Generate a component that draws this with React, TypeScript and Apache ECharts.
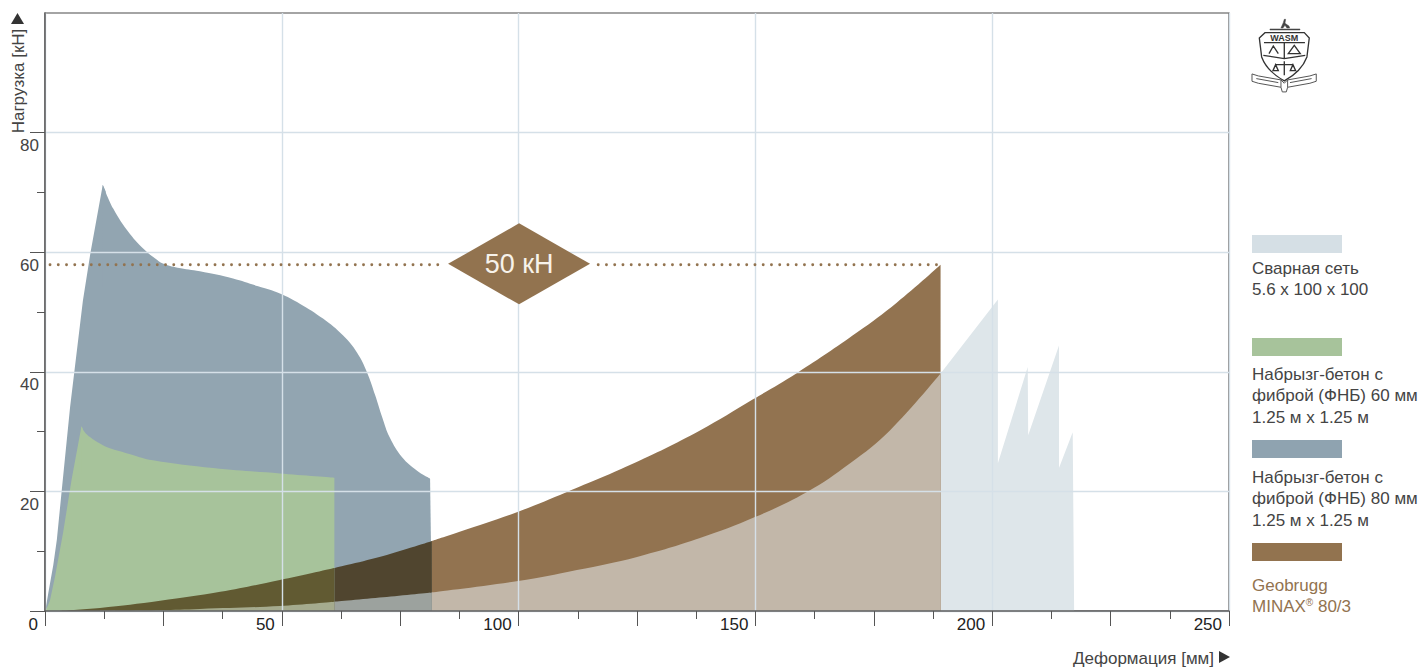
import React, { useEffect, useRef } from "react";
import * as echarts from "echarts";

type Pt = [number, number];

const xLabelValues = [0, 50, 100, 150, 200, 250];
const xMidTicks = [25, 75, 125, 175, 225];
const xMinorTicks = [12.5, 37.5, 62.5, 87.5, 112.5, 137.5, 162.5, 187.5, 212.5, 237.5];
const yLabelValues = [20, 40, 60, 80];
const yMajorTicks = [0, 20, 40, 60, 80];
const yMinorTicks = [10, 30, 50, 70];

const fibre80Rise: Pt[] = [
  [0, 0], [0.35, 1.4], [0.7, 3], [1.75, 7.7], [2.5, 11.9], [3.5, 19.9], [5.3, 34.1], [8, 51.9], [9.6, 59.9], [12.2, 71.3], [12.8, 70.2],
];
const fibre80Fall: Pt[] = [
  [12.2, 71.3], [14.4, 67.3], [17.9, 63.1], [21.3, 60.2], [23.2, 59], [24.9, 58.1], [28, 57.4], [32.7, 56.8], [39.7, 55.6], [45, 54.3], [49.6, 53.1],
  [53.8, 51.4], [58.7, 48.9], [62.9, 46.1], [65.9, 43.2], [68, 39.9], [69.7, 36.1], [71.2, 32.4],
  [72.8, 29], [75.4, 25.7], [78.5, 23.5], [81.3, 22.1],
];
const fibre80Tail: Pt[] = [[80.5, 22.5], [81.3, 22.1], [81.7, 0]];
const fibre60Rise: Pt[] = [
  [0, 0], [0.5, 0.7], [1.06, 1.8], [2.1, 5.7], [3.8, 13], [5.6, 21.9], [7.7, 30.9], [8, 30.4],
];
const fibre60Fall: Pt[] = [
  [7.7, 30.9], [8.4, 29.9], [9.5, 29.1], [11.6, 28],
  [13.7, 27.2], [17.2, 26.4], [22.8, 25.2], [35.5, 23.9], [49.6, 23], [61.1, 22.3],
];
const minaxUpper: Pt[] = [
  [3.2, 0.05], [11.6, 0.5], [24.3, 1.7], [37, 3.2], [49.6, 5.2], [61.1, 7.2], [71.4, 9.2], [81.7, 11.7], [87.4, 13.2],
  [99.9, 16.6], [110.2, 19.9], [123.5, 24.4], [138.3, 30.2], [149.5, 35.4], [158.8, 39.8], [171.5, 46.6],
  [179.9, 51.6], [189.1, 57.9],
];
const minaxLower: Pt[] = [
  [11.6, 0.05], [24.3, 0.15], [32.7, 0.35], [49.6, 0.85], [61.1, 1.55], [71.4, 2.3], [81.7, 3.1], [99.9, 5], [112.3, 6.85],
  [125, 9.05], [138.3, 12.2], [149.9, 15.7], [160.9, 19.9], [170, 24.7], [178.4, 30.2], [189.1, 39.7],
];
const meshPeaks: Pt[] = [
  [201.2, 52.1], [201.2, 24.7], [207.5, 40.8], [207.6, 29.4], [214.1, 44.4], [214.1, 23.9],
  [217, 29.9], [217.3, 0],
];
const weldedMesh: Pt[] = [...minaxLower, ...meshPeaks];
const referenceLoad: (Pt | [null, null])[] = [[1.05, 57.9], [83.4, 57.9], [null, null], [116.8, 57.9], [188.6, 57.9]];
const diamond: Pt[] = [[100.1, 58.05]];

const legendItems = [
  { color: "#d5dfe5", text: "Сварная сеть\n5.6 x 100 x 100", textColor: "#444444", rectY: 235, textY: 258 },
  { color: "#a7c39b", text: "Набрызг-бетон с\nфиброй (ФНБ) 60 мм\n1.25 м x 1.25 м", textColor: "#444444", rectY: 338, textY: 364 },
  { color: "#8fa3b0", text: "Набрызг-бетон с\nфиброй (ФНБ) 80 мм\n1.25 м x 1.25 м", textColor: "#444444", rectY: 440, textY: 467 },
  { color: "#92734f", text: "Geobrugg\nMINAX{s|®} 80/3", textColor: "#92734f", rectY: 543, textY: 575 },
];

const FONT = '"Liberation Sans", Arial, sans-serif';
const slice = (pts: Pt[], from: number, to: number) => pts.filter((p) => p[0] >= from && p[0] <= to);

const area = (name: string, data: Pt[], color: string, smooth: number | boolean = false) => ({
  name,
  type: "line",
  data,
  symbol: "none",
  smooth,
  z: 2,
  lineStyle: { width: 0 },
  areaStyle: { color, opacity: 1 },
  silent: true,
});

echarts.graphic.registerShape(
  "wasmShield",
  echarts.graphic.extendPath(
    "M60 62L178 62L193 78L186 135Q170 178 118 207Q66 178 50 135L43 78Z M57 92L180 92 M118 92L118 140 M55 130L118 140L181 130 M118 148L118 190 M92 158L144 158 M92 158L84 176L100 176Z M144 158L136 176L152 176Z M148 100L166 125L130 125Z M72 125L85 102L100 125",
    {}
  ) as any
);
echarts.graphic.registerShape(
  "wasmBanner",
  echarts.graphic.extendPath(
    "M21 186L40 192L108 204L108 226L40 214L21 208Z M214 186L195 192L128 204L128 226L195 214L214 208Z M108 204L118 214L128 204 M108 226L112 240L124 240L128 226 M34 200L100 212 M135 212L200 200",
    {}
  ) as any
);
echarts.graphic.registerShape(
  "wasmCrest",
  echarts.graphic.extendPath(
    "M108 48L115 32L118 22L122 22L120 34L132 42L134 48L126 48L120 40L114 48Z M75 51L165 51L165 54L75 54Z",
    {}
  ) as any
);

export default function App() {
  const ref = useRef<HTMLDivElement>(null);
  useEffect(() => {
    document.body.style.margin = "0";
    const chart = echarts.init(ref.current!, undefined, { renderer: "svg" });
    const grid = { left: 45, right: 191, top: 13, bottom: 57, show: true, borderColor: "#4a4a4a", borderWidth: 1.2, backgroundColor: "transparent" };
    const gridLine = { show: true, lineStyle: { color: "#d5e0e8", width: 1.4 } };
    const axisLine = { show: true, onZero: false, lineStyle: { color: "#5e5e5e", width: 1.5 } };
    const tickStyle = { color: "#555555", width: 1 };
    const xBase = { type: "value", min: 0, max: 250, interval: 50, z: 3, position: "bottom" };
    const yBase = { type: "value", min: 0, max: 100, interval: 20, z: 3, position: "left" };
    const hidden = { axisLine: { show: false }, splitLine: { show: false }, axisLabel: { show: false } };
    const option: any = {
      animation: false,
      grid,
      xAxis: [
        {
          ...xBase,
          axisLine,
          splitLine: gridLine,
          axisTick: { show: true, length: 15, customValues: xLabelValues, lineStyle: tickStyle },
          axisLabel: { show: true, customValues: xLabelValues, color: "#222222", fontFamily: FONT, fontSize: 17, align: "right", verticalAlign: "top", margin: 5, padding: [0, 7, 0, 0] },
        },
        { ...xBase, ...hidden, axisTick: { show: true, length: 15, customValues: xMidTicks, lineStyle: tickStyle } },
        { ...xBase, ...hidden, axisTick: { show: true, length: 8, customValues: xMinorTicks, lineStyle: tickStyle } },
      ],
      yAxis: [
        {
          ...yBase,
          axisLine,
          splitLine: gridLine,
          axisTick: { show: true, length: 15, customValues: yMajorTicks, lineStyle: tickStyle },
          axisLabel: { show: true, customValues: yLabelValues, color: "#444444", fontFamily: FONT, fontSize: 17, align: "right", verticalAlign: "top", margin: 6, padding: [4.5, 0, 0, 0] },
        },
        { ...yBase, ...hidden, axisTick: { show: true, length: 8, customValues: yMinorTicks, lineStyle: tickStyle } },
      ],
      series: [
        area("Сварная сеть 5.6 x 100 x 100", weldedMesh, "#dee6ea"),
        area("Набрызг-бетон с фиброй (ФНБ) 80 мм", fibre80Rise, "#92a5b1"),
        area("Набрызг-бетон 80 мм, спад", fibre80Fall, "#92a5b1", 0.4),
        area("Набрызг-бетон 80 мм, край", fibre80Tail, "#92a5b1"),
        area("Набрызг-бетон с фиброй (ФНБ) 60 мм", fibre60Rise, "#a7c39b"),
        area("Набрызг-бетон 60 мм, спад", fibre60Fall, "#a7c39b", 0.4),
        area("Geobrugg MINAX 80/3", slice(minaxUpper, 81.7, 190), "#927350", 0.4),
        area("MINAX / 80 мм", slice(minaxUpper, 61.1, 81.7), "#50452f", 0.4),
        area("MINAX / 60 мм", slice(minaxUpper, 0, 61.1), "#615a32", 0.4),
        area("Нижняя граница", slice(minaxLower, 81.7, 190), "#c2b7a9", 0.4),
        area("Нижняя граница / 80 мм", slice(minaxLower, 61.1, 81.7), "#9ca29e", 0.4),
        area("Нижняя граница / 60 мм", slice(minaxLower, 0, 61.1), "#a5ab8e", 0.4),
        {
          name: "Уровень 50 кН", type: "line", data: referenceLoad, symbol: "none", z: 5, connectNulls: false, silent: true,
          lineStyle: { color: "#92734f", width: 2.8, type: [0.1, 8.15], cap: "round" },
        },
        {
          name: "50 кН", type: "scatter", data: diamond, symbol: "diamond", symbolSize: [142, 81], z: 6, silent: true,
          itemStyle: { color: "#92734f", opacity: 1 },
          label: { show: true, position: "inside", formatter: "50 кН", color: "#f7f2ea", fontFamily: FONT, fontSize: 27 },
        },
      ],
      graphic: [
        { type: "text", rotation: Math.PI / 2, x: 18, y: 81, style: { text: "Нагрузка [кН]", fill: "#444444", font: `17px ${FONT}`, textAlign: "center", textVerticalAlign: "middle" } },
        { type: "polygon", shape: { points: [[17.5, 13], [11, 24], [24, 24]] }, style: { fill: "#333333" } },
        { type: "text", x: 1214, y: 658, style: { text: "Деформация [мм]", fill: "#444444", font: `17px ${FONT}`, textAlign: "right", textVerticalAlign: "middle" } },
        { type: "polygon", shape: { points: [[1219, 651], [1230, 657], [1219, 663]] }, style: { fill: "#333333" } },
        ...legendItems.flatMap((l) => [
          { type: "rect", shape: { x: 1252, y: l.rectY, width: 90, height: 18 }, style: { fill: l.color } },
          {
            type: "text", x: 1252, y: l.textY,
            style: {
              text: l.text, fill: l.textColor, font: `17px ${FONT}`, lineHeight: 21.3, textAlign: "left", textVerticalAlign: "top",
              rich: { s: { fontSize: 10, fontFamily: "Liberation Sans", fill: l.textColor, lineHeight: 21.3, padding: [0, 0, 8, 0] } },
            },
          },
        ]),
        {
          type: "group", x: 1245, y: 12, scaleX: 1 / 3, scaleY: 1 / 3,
          children: [
            { type: "wasmCrest", style: { fill: "#444444", stroke: "#444444", lineWidth: 1.5 } },
            { type: "wasmBanner", style: { fill: "#ffffff", stroke: "#555555", lineWidth: 3 } },
            { type: "wasmShield", style: { fill: "none", stroke: "#333333", lineWidth: 4 } },
            { type: "text", x: 118, y: 78, style: { text: "WASM", fill: "#333333", font: `bold 27px ${FONT}`, textAlign: "center", textVerticalAlign: "middle" } },
          ],
        },
      ],
    };
    chart.setOption(option);
    return () => chart.dispose();
  }, []);
  return <div ref={ref} style={{ position: "absolute", left: 0, top: 0, width: 1420, height: 668 }} />;
}
